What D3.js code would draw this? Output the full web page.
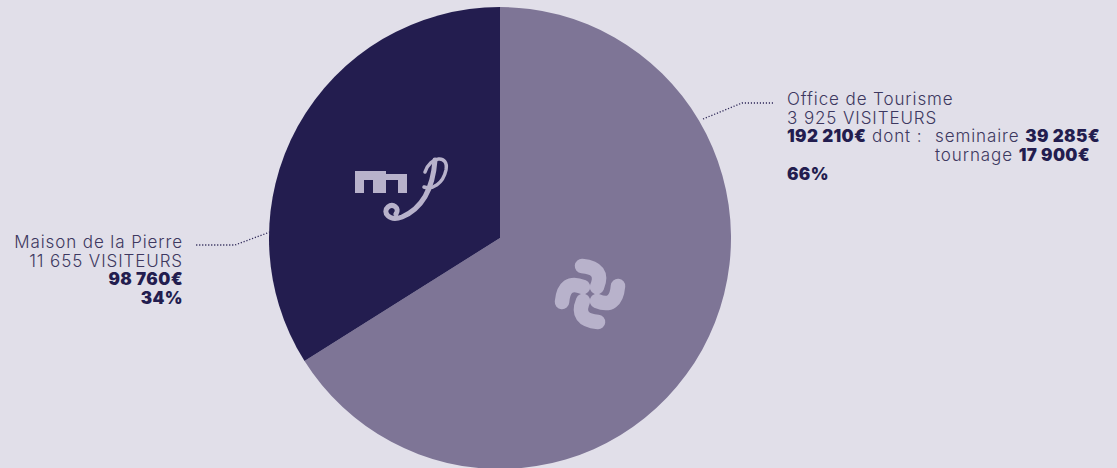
<!DOCTYPE html>
<html>
<head>
<meta charset="utf-8">
<script src="https://cdn.jsdelivr.net/npm/d3@7"></script>
<style>
  html, body { margin: 0; padding: 0; background: #e1dfe9; }
  svg { display: block; font-family: "Inter", "Open Sans", sans-serif; }
  .light { font-weight: 300; fill: #3d3860; letter-spacing: 0.9px; }
  .bold { font-weight: 900; fill: #231d4f; letter-spacing: 0.4px; }
</style>
</head>
<body>
<svg id="chart" width="1117" height="468"></svg>
<script>
// data
var sites = ["Office de Tourisme", "Maison de la Pierre"];
var visitors = ["3 925", "11 655"];
var revenue = [192210, 98760];
var extras = [["seminaire", "39 285€"], ["tournage", "17 900€"]];
var colors = ["#7e7596", "#231d4f"];

var W = 1117, H = 468,
    cx = 500, cy = 238, radius = 231,
    fs = 17, lh = 18.5;

var svg = d3.select("#chart");
var total = d3.sum(revenue);
var fmt = function(v){ return d3.format(",")(v).replace(/,/g, " ") + "€"; };
var pct = function(v){ return Math.round(v / total * 100) + "%"; };

var pie = d3.pie().sort(null).value(function(d){ return d; });
var arc = d3.arc().innerRadius(0).outerRadius(radius);
var arcs = pie(revenue);

var g = svg.append("g").attr("transform", "translate(" + cx + "," + cy + ")");

g.selectAll("path.slice")
    .data(arcs)
    .enter().append("path")
    .attr("class", "slice")
    .attr("d", arc)
    .attr("fill", function(d, i){ return colors[i]; });

// logos
var logoFill = "#b8b2cb";

// swirl logo on office slice
var swirl = svg.append("g").attr("transform", "translate(590,294)");
for (var k = 0; k < 4; k++) {
    swirl.append("path")
        .attr("d", "M-8,-28 Q15,-26 7,-7")
        .attr("transform", "rotate(" + (k * 90) + ")")
        .attr("fill", "none")
        .attr("stroke", logoFill)
        .attr("stroke-width", 14.5)
        .attr("stroke-linecap", "round");
}

// mP logo on maison slice
var mp = svg.append("g");
mp.append("path")
    .attr("d", "M355,171 H386 V174 H407 V193 H398 V180 H386 V193 H373 V180 H364 V193 H355 Z")
    .attr("fill", logoFill);
mp.append("path")
    .attr("d", "M435,160 C433,188 423,208 402,217 C389,222 382,212 388,207 C393,203 400,208 396,214")
    .attr("fill", "none").attr("stroke", logoFill)
    .attr("stroke-width", 5).attr("stroke-linecap", "round");
mp.append("path")
    .attr("d", "M425,172 C430,156 449,154 446,170 C443,184 432,190 424,187")
    .attr("fill", "none").attr("stroke", logoFill)
    .attr("stroke-width", 3.5).attr("stroke-linecap", "round");

// leader lines
var lineStyle = function(sel){
    return sel.attr("fill", "none").attr("stroke", "#2e2858")
        .attr("stroke-width", 1.3).attr("stroke-dasharray", "1.2,1.8");
};
lineStyle(svg.append("path").attr("d", "M703,119 L742,103 L774,103"));
lineStyle(svg.append("path").attr("d", "M270,232 L235,245 L196,245"));

// right label
var rx = 787;
var rt = svg.append("text").attr("font-size", fs);
rt.append("tspan").attr("class", "light").attr("x", rx).attr("y", 105).text(sites[0]);
rt.append("tspan").attr("class", "light").attr("x", rx).attr("y", 105 + lh).text(visitors[0] + " VISITEURS");
var l3 = svg.append("text").attr("font-size", fs).attr("x", rx).attr("y", 105 + 2 * lh);
l3.append("tspan").attr("class", "bold").text(fmt(revenue[0]));
l3.append("tspan").attr("class", "light").text(" dont :");
var ex = svg.append("text").attr("font-size", fs);
extras.forEach(function(e, i){
    var t = ex.append("tspan").attr("x", 935).attr("y", 105 + (2 + i) * lh);
    t.append("tspan").attr("class", "light").text(e[0] + " ");
    t.append("tspan").attr("class", "bold").text(e[1]);
});
svg.append("text").attr("class", "bold").attr("font-size", fs)
    .attr("x", rx).attr("y", 180).text(pct(revenue[0]));

// left label
var lx = 183;
var lt = svg.append("text").attr("font-size", fs).attr("text-anchor", "end");
lt.append("tspan").attr("class", "light").attr("x", lx).attr("y", 248).text(sites[1]);
lt.append("tspan").attr("class", "light").attr("x", lx).attr("y", 248 + lh).text(visitors[1] + " VISITEURS");
lt.append("tspan").attr("class", "bold").attr("x", lx).attr("y", 248 + 2 * lh).text(fmt(revenue[1]));
lt.append("tspan").attr("class", "bold").attr("x", lx).attr("y", 248 + 3 * lh).text(pct(revenue[1]));
</script>
</body>
</html>
